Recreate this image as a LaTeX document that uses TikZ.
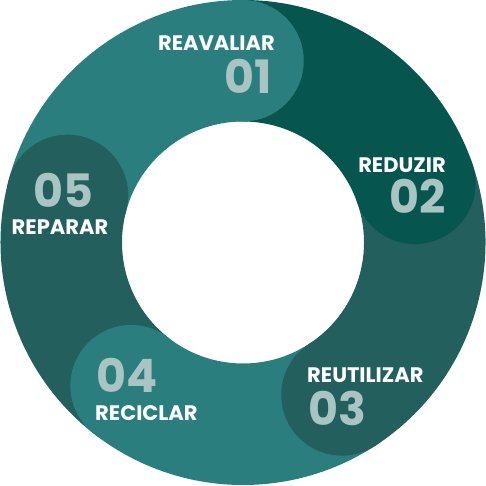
\documentclass[tikz,border=0pt]{standalone}
\usepackage{fontspec}
\setmainfont{Poppins}
\usepackage{tikz}
\definecolor{tealA}{HTML}{2A7F7E}
\definecolor{tealB}{HTML}{06554F}
\definecolor{tealC}{HTML}{225F5D}
\definecolor{numgray}{HTML}{A9C4C3}
\tikzset{
  steplabel/.style={text=white,font=\fontsize{21}{21}\selectfont\bfseries},
  stepnum/.style={text=numgray,text depth=0pt,font=\fontsize{46}{46}\selectfont\bfseries}
}
\begin{document}
\begin{tikzpicture}[x=1pt,y=1pt]
\tikzstyle{every node}+=[inner sep=0pt]
\useasboundingbox (-243,-242.5) rectangle (243,242.5);
% ring bands
\fill [tealA] (165:242.5) arc (165:90:242.5) -- (90:121) arc (90:165:121) -- cycle;
\fill [tealB] (90:242.5) arc (90:19:242.5) -- (19:121) arc (19:90:121) -- cycle;
\fill [tealC] (19:242.5) arc (19:-57:242.5) -- (-57:121) arc (-57:19:121) -- cycle;
\fill [tealA] (-57:242.5) arc (-57:-128:242.5) -- (-128:121) arc (-128:-57:121) -- cycle;
\fill [tealC] (-128:242.5) arc (-128:-195:242.5) -- (-195:121) arc (-195:-128:121) -- cycle;
% round heads
\fill [tealA] (90:181.75) circle (60.75);
\fill [tealB] (19:181.75) circle (60.75);
\fill [tealC] (-57:181.75) circle (60.75);
\fill [tealA] (-128:181.75) circle (60.75);
\fill [tealC] (165:181.75) circle (60.75);
% texts
\node (lab1) [steplabel,anchor=base east] at (32,192.5) {REAVALIAR};
\node (num1) [stepnum,anchor=base east] at (29,149.5) {01};
\node (lab2) [steplabel,anchor=base east] at (203,70.5) {REDUZIR};
\node (num2) [stepnum,anchor=base east] at (203,29.5) {02};
\node (lab3) [steplabel,anchor=base west] at (64,-139.5) {REUTILIZAR};
\node (num3) [stepnum,anchor=base west] at (65,-182.5) {03};
\node (num4) [stepnum,anchor=base west] at (-147,-149.5) {04};
\node (lab4) [steplabel,anchor=base west] at (-148,-177.5) {RECICLAR};
\node (num5) [stepnum,anchor=base] at (-180,35) {05};
\node (lab5) [steplabel,anchor=base] at (-183,8.5) {REPARAR};
\end{tikzpicture}
\end{document}
